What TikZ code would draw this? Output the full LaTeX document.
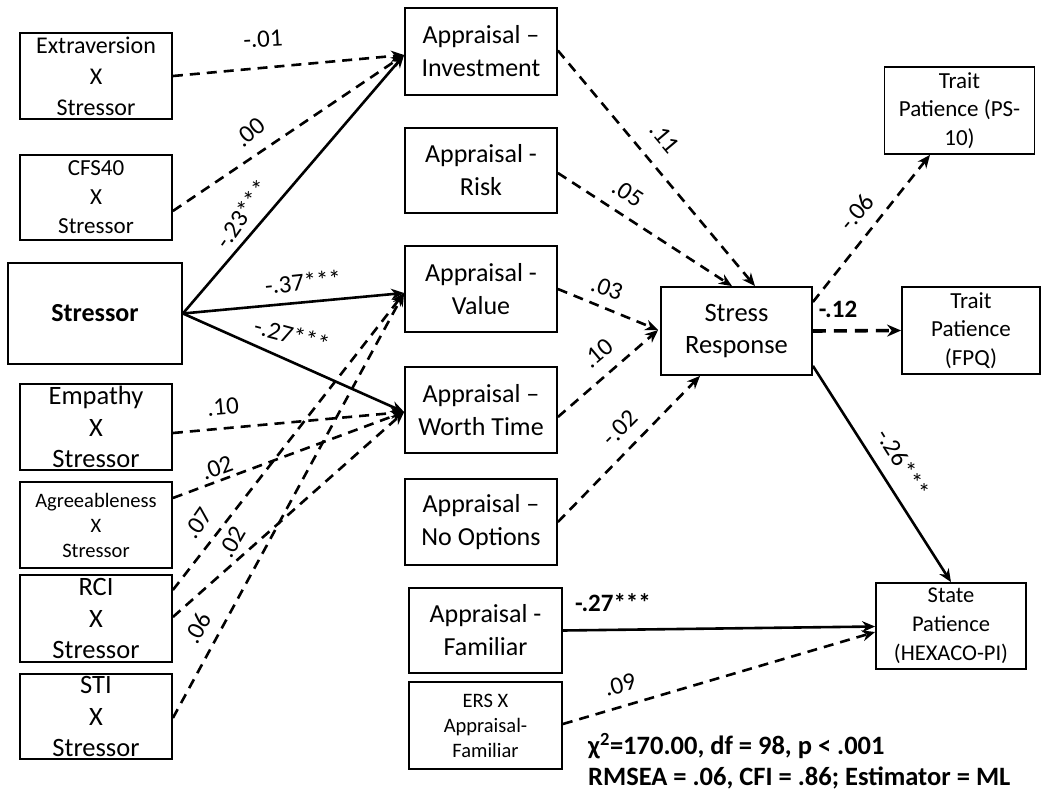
\documentclass[tikz,border=0pt]{standalone}
\usepackage{fontspec}
\setmainfont{Carlito}
\usetikzlibrary{arrows.meta,calc}
\begin{document}
\begin{tikzpicture}[x=1pt,y=-1pt,
  box/.style={draw,line width=1.8pt,align=center,inner sep=0pt,anchor=center},
  fbig/.style={font=\fontsize{26}{33}\selectfont},
  fmid/.style={font=\fontsize{24}{31}\selectfont},
  fsm/.style={font=\fontsize{20.5}{25}\selectfont},
  fpat/.style={font=\fontsize{23}{28.5}\selectfont},
  dsh/.style={line width=2.6pt,dash pattern=on 10pt off 7pt,-{Stealth[length=13pt,width=11pt]}},
  sol/.style={line width=2.6pt,-{Stealth[length=13pt,width=11pt]}},
  lab/.style={font=\fontsize{25}{25}\selectfont,inner sep=0pt},
  fit/.style={anchor=west,inner sep=0pt,font=\fontsize{26.5}{30}\selectfont\bfseries}
]
\fill[white] (0,0) rectangle (1042,795);
\useasboundingbox (0,0) rectangle (1042,795);

% left column
\node[box,fmid,minimum width=152pt,minimum height=86pt] (ext) at (96,76) {Extraversion\\X\\Stressor};
\node[box,font=\fontsize{23}{29}\selectfont,minimum width=152pt,minimum height=85pt] (cfs) at (96,197.5) {CFS40\\X\\Stressor};
\node[box,font=\fontsize{26}{33}\selectfont\bfseries,minimum width=174pt,minimum height=101pt] (str) at (95,313.5) {Stressor};
\node[box,font=\fontsize{26.5}{31.5}\selectfont,minimum width=152pt,minimum height=86pt] (emp) at (96,427) {Empathy\\X\\Stressor};
\node[box,fsm,minimum width=152pt,minimum height=86pt] (agr) at (96,525) {Agreeableness\\X\\Stressor};
\node[box,font=\fontsize{26.5}{31.5}\selectfont,minimum width=152pt,minimum height=87pt] (rci) at (96,618.5) {RCI\\X\\Stressor};
\node[box,font=\fontsize{26.5}{31.5}\selectfont,minimum width=152pt,minimum height=85pt] (sti) at (96,716.5) {STI\\X\\Stressor};

% middle column
\node[box,fbig,minimum width=152pt,minimum height=87pt] (inv) at (481,51.5) {Appraisal --\\Investment};
\node[box,fbig,minimum width=152pt,minimum height=85pt] (risk) at (481,170.5) {Appraisal -\\Risk};
\node[box,fbig,minimum width=152pt,minimum height=86pt] (val) at (481,289) {Appraisal -\\Value};
\node[box,fbig,minimum width=152pt,minimum height=86pt] (wor) at (481,410) {Appraisal --\\Worth Time};
\node[box,fbig,minimum width=152pt,minimum height=86pt] (nop) at (481,522) {Appraisal --\\No Options};
\node[box,fbig,minimum width=153pt,minimum height=85pt] (fam) at (485.5,630.5) {Appraisal -\\Familiar};
\node[box,fsm,minimum width=153pt,minimum height=87pt] (ers) at (485.5,725.5) {ERS X\\Appraisal-\\Familiar};

% right side
\node[box,font=\fontsize{26.5}{32}\selectfont,minimum width=151pt,minimum height=88pt] (sr) at (736.5,331) {Stress\\Response};
\node[box,fpat,minimum width=150pt,minimum height=87pt] (ps) at (959.5,110.5) {Trait\\Patience (PS-\\10)};
\node[box,fpat,minimum width=138pt,minimum height=87pt] (fpq) at (971,330.5) {Trait\\Patience\\(FPQ)};
\node[box,font=\fontsize{22.5}{29}\selectfont,minimum width=150pt,minimum height=86pt] (stp) at (951,626) {State\\Patience\\(HEXACO-PI)};

% arrival points
\coordinate (invIn) at ($(inv.west)+(0,3.5)$);
\coordinate (valIn) at ($(val.west)+(0,4)$);
\coordinate (worIn) at ($(wor.west)+(0,2)$);
\coordinate (srL) at ($(sr.west)+(-2,-1)$);

% into Investment
\draw[dsh] (ext.east) -- (invIn);
\draw[dsh] ($(cfs.east)+(0,13.5)$) -- (invIn);
\draw[sol] (str.east) -- (invIn);
% into Value
\draw[sol] (str.east) -- (valIn);
\draw[dsh] ($(rci.east)+(0,-28.5)$) -- (valIn);
\draw[dsh] ($(sti.east)+(0,1.5)$) -- (valIn);
% into Worth Time
\draw[sol] (str.east) -- (worIn);
\draw[dsh] ($(emp.east)+(0,6)$) -- (worIn);
\draw[dsh] ($(agr.east)+(0,-27)$) -- (worIn);
\draw[dsh] ($(rci.east)+(0,-1.5)$) -- (worIn);

% into Stress Response
\draw[dsh] ($(inv.east)+(0,-1)$) -- ($(sr.north)+(18.5,0)$);
\draw[dsh] ($(risk.east)+(0,2.5)$) -- ($(sr.north)+(-4.5,0)$);
\draw[dsh] (val.east) -- (srL);
\draw[dsh] ($(wor.east)+(0,7)$) -- (srL);
\draw[dsh] (nop.east) -- ($(sr.south)+(-36.5,0)$);

% out of Stress Response
\draw[dsh] ($(sr.east)+(0,-29)$) -- ($(ps.south)+(-29.5,0)$);
\draw[line width=3.6pt,dash pattern=on 13pt off 8pt,-{Stealth[length=14pt,width=12pt]}] (sr.east) -- (fpq.west);
\draw[sol] ($(sr.south east)+(0,-10)$) -- (stp.north);

% into State Patience
\draw[sol] (fam.east) -- ($(stp.west)+(0,0.5)$);
\draw[dsh] ($(ers.east)+(0,-1.5)$) -- ($(stp.west)+(0,6)$);

% labels
\node[lab,rotate=3] (l1) at (263,39) {-.01};
\node[lab,rotate=40] (l2) at (250,132) {.00};
\node[lab,rotate=55] (l3) at (242,214) {-.23***};
\node[lab,rotate=6] (l4) at (303,282) {-.37***};
\node[lab,rotate=-15] (l5) at (292,335) {-.27***};
\node[lab,rotate=5] (l6) at (223,407) {.10};
\node[lab,rotate=20] (l7) at (217,468) {.02};
\node[lab,rotate=55] (l8) at (198,523) {.07};
\node[lab,rotate=60] (l9) at (232,542) {.02};
\node[lab,rotate=62] (l10) at (198,628) {.06};
\node[lab,rotate=-50] (l11) at (665,138) {.11};
\node[lab,rotate=-33] (l12) at (628,193) {.05};
\node[lab,rotate=-20] (l13) at (607,288) {.03};
\node[lab,rotate=40] (l14) at (598,353) {.10};
\node[lab,rotate=45] (l15) at (620,428) {-.02};
\node[lab,rotate=50] (l16) at (857,212) {-.06};
\node[lab,font=\fontsize{25}{25}\selectfont\bfseries] (l17) at (838,309) {-.12};
\node[lab,rotate=-58] (l18) at (903,463) {-.26***};
\node[lab,font=\fontsize{25}{25}\selectfont\bfseries] (l19) at (613,603) {-.27***};
\node[lab,rotate=15] (l20) at (620,685) {.09};

% fit statistics
\node[fit] (fit1) at (588,746) {χ\textsuperscript{2}=170.00, df = 98, p < .001};
\node[fit] (fit2) at (588,778) {RMSEA = .06, CFI = .86; Estimator = ML};
\end{tikzpicture}
\end{document}
